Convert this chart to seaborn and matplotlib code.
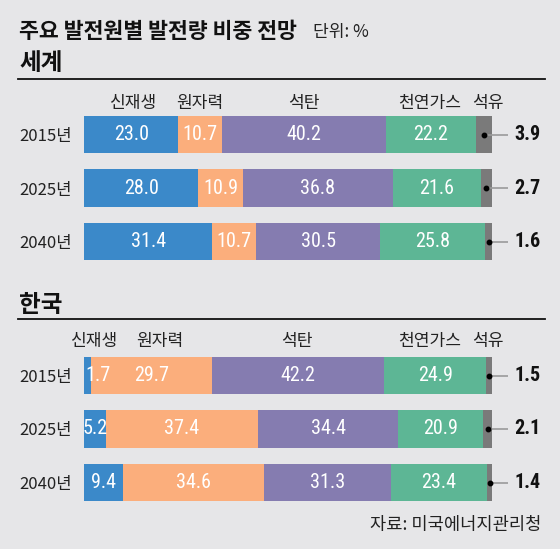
import matplotlib
matplotlib.use("Agg")
import matplotlib.pyplot as plt
from matplotlib import font_manager
import seaborn as sns
import pandas as pd
import numpy as np

# ---------------- data ----------------
sources = ['신재생', '원자력', '석탄', '천연가스', '석유']
years = ['2015년', '2025년', '2040년']

world_renew = [23.0, 28.0, 31.4]
world_nuclear = [10.7, 10.9, 10.7]
world_coal = [40.2, 36.8, 30.5]
world_gas = [22.2, 21.6, 25.8]
world_oil = [3.9, 2.7, 1.6]

korea_renew = [1.7, 5.2, 9.4]
korea_nuclear = [29.7, 37.4, 34.6]
korea_coal = [42.2, 34.4, 31.3]
korea_gas = [24.9, 20.9, 23.4]
korea_oil = [1.5, 2.1, 1.4]

title = '주요 발전원별 발전량 비중 전망'
unit = '단위: %'
source_note = '자료: 미국에너지관리청'

# ---------------- style ----------------
BG = '#e6e6e8'
colors = ['#3b89c9', '#fbae7c', '#857cb0', '#5db695', '#7a7a7a']
palette = dict(zip(sources, colors))

KR = 'Noto Sans CJK KR'


def pick_font(cands):
    for c in cands:
        try:
            font_manager.findfont(font_manager.FontProperties(family=c),
                                  fallback_to_default=False)
            return c
        except Exception:
            pass
    return 'DejaVu Sans'


NUM = pick_font(['Liberation Sans Narrow', 'Roboto Condensed', 'Roboto', 'Liberation Sans'])
NUM_SIZE = 17.5 if NUM == 'Liberation Sans Narrow' else 14.5

plt.rcParams['font.family'] = [KR, 'DejaVu Sans']

W, H = 560, 549
fig = plt.figure(figsize=(W / 100, H / 100), dpi=100, facecolor=BG)


def fy(py):
    return 1 - py / H


def fx(px):
    return px / W


# header texts
fig.text(fx(19), fy(31), title, fontsize=15.6, fontweight='bold', va='center', ha='left', color='#111')
fig.text(fx(313), fy(32), unit, fontsize=12.3, va='center', ha='left', color='#222')
fig.text(fx(541), fy(525), source_note, fontsize=12.7, va='center', ha='right', color='#222')

BAR_L, BAR_R = 84.3, 492.0
SPACING = 53.5
BAR_H = 37.6


def panel(name, name_y, line_y, c0, label_y, label_x, vals):
    # section header + rule
    fig.text(fx(19), fy(name_y), name, fontsize=17, fontweight='bold', va='center', ha='left', color='#111')
    fig.add_artist(plt.Line2D([fx(18), fx(545)], [fy(line_y), fy(line_y)], color='#111', lw=1.3))

    top = c0 - SPACING / 2
    bot = c0 + 2 * SPACING + SPACING / 2
    ax = fig.add_axes([fx(BAR_L), fy(bot), (BAR_R - BAR_L) / W, (bot - top) / H])
    ax.set_facecolor('none')

    arr = np.array(vals)  # sources x years
    cum = np.cumsum(arr, axis=0)
    rows = []
    for si, s in enumerate(sources):
        for yi, y in enumerate(years):
            rows.append({'year': y, 'source': s, 'cum': cum[si, yi]})
    df = pd.DataFrame(rows)
    sns.barplot(data=df, y='year', x='cum', hue='source', hue_order=list(reversed(sources)),
                order=years, palette=palette, dodge=False, width=BAR_H / SPACING,
                orient='h', saturation=1, legend=False, ax=ax, edgecolor='none')
    ax.set_xlim(0, 100)
    ax.set_ylim(2.5, -0.5)
    for sp in ax.spines.values():
        sp.set_visible(False)
    ax.set_xticks([])
    ax.set_xlabel('')
    ax.set_ylabel('')
    ax.tick_params(axis='y', length=0, pad=8.8)
    for t in ax.get_yticklabels():
        t.set_fontsize(12)
        t.set_color('#222')

    # value labels
    for yi in range(len(years)):
        for si in range(len(sources) - 1):
            v = arr[si, yi]
            mid = cum[si, yi] - v / 2
            if v < 3:
                ax.text(0.3, yi, f'{v:.1f}', ha='left', va='center', color='white',
                        fontsize=NUM_SIZE, family=NUM)
            else:
                ax.text(mid, yi, f'{v:.1f}', ha='center', va='center', color='white',
                        fontsize=NUM_SIZE, family=NUM)
        # oil: leader + outside label
        v = arr[-1, yi]
        mid = cum[-1, yi] - v / 2
        ax.plot([mid, 103.85], [yi, yi], color='#9a9a9a', lw=1.2, clip_on=False, solid_capstyle='butt')
        ax.plot([mid], [yi], 'o', color='black', ms=3.2, clip_on=False)
        ax.text(105.4, yi, f'{v:.1f}', ha='left', va='center', color='#111',
                fontsize=NUM_SIZE, fontweight='bold', family=NUM)

    # category labels above bars
    ly = (label_y - c0) / SPACING
    for s, lx in zip(sources, label_x):
        ax.text(lx, ly, s, ha='center', va='center', fontsize=12.3, color='#222', clip_on=False)
    return ax


panel('세계', 63.5, 79, 134.5, 103,
      [12.2, 28.4, 53.9, 84.6, 99.0],
      [world_renew, world_nuclear, world_coal, world_gas, world_oil])
panel('한국', 304.5, 319, 375.5, 341,
      [2.5, 18.6, 52.2, 84.6, 99.0],
      [korea_renew, korea_nuclear, korea_coal, korea_gas, korea_oil])

fig.savefig('out.png', dpi=100, facecolor=BG)
